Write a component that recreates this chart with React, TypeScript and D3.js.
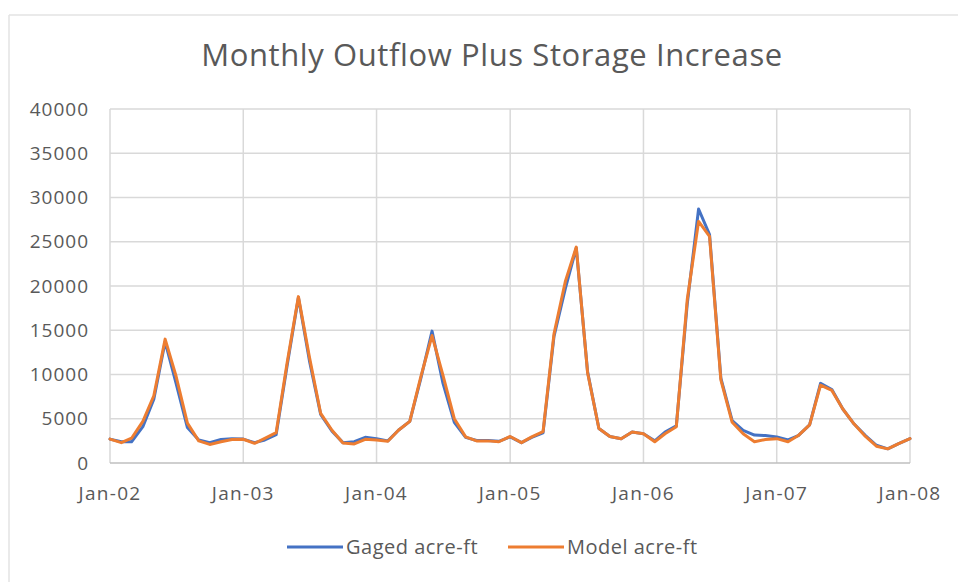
import React from "react";
import * as d3 from "d3";

const startMonth = "2002-01";
const gaged = [
  2700, 2400, 2400, 4100, 7200, 13700, 9000, 4000, 2600, 2300, 2650, 2750,
  2700, 2300, 2600, 3200, 11000, 18700, 11600, 5500, 3600, 2300, 2400, 2900,
  2750, 2500, 3700, 4700, 9500, 14900, 9000, 4600, 2900, 2550, 2550, 2450,
  2950, 2300, 2900, 3400, 14300, 19700, 24300, 10300, 3900, 3000, 2750, 3500,
  3300, 2500, 3500, 4200, 18000, 28700, 25800, 9600, 4800, 3700, 3150, 3100,
  2950, 2600, 3100, 4300, 9000, 8300, 6100, 4400, 3100, 2000, 1600, 2200,
  2750,
];
const model = [
  2700, 2300, 2800, 4700, 7600, 14000, 9800, 4500, 2500, 2100, 2400, 2650,
  2680, 2220, 2790, 3430, 11300, 18800, 12000, 5600, 3700, 2250, 2150, 2680,
  2600, 2450, 3700, 4700, 9700, 14400, 9900, 5000, 2950, 2500, 2500, 2400,
  3000, 2300, 2950, 3550, 14600, 20500, 24400, 10200, 3900, 3000, 2750, 3500,
  3300, 2400, 3300, 4100, 18500, 27300, 25600, 9400, 4600, 3300, 2400, 2650,
  2750, 2400, 3100, 4300, 8800, 8200, 6100, 4400, 3000, 1900, 1600, 2200,
  2750,
];
const yTicks = [0, 5000, 10000, 15000, 20000, 25000, 30000, 35000, 40000];
const xTickYears = [2002, 2003, 2004, 2005, 2006, 2007, 2008];
const seriesNames = ["Gaged acre-ft", "Model acre-ft"];
const title = "Monthly Outflow Plus Storage Increase";

const W = 958;
const H = 582;
const left = 110;
const right = 910;
const top = 109;
const bottom = 463;
const textColor = "#595959";
const font = "'Open Sans', sans-serif";
const colors = ["#4472C4", "#ED7D31"];

export default function App() {
  const parse = d3.timeParse("%Y-%m");
  const start = parse(startMonth) as Date;
  const dates = gaged.map((_, i) => d3.timeMonth.offset(start, i));
  const x = d3
    .scaleTime()
    .domain([new Date(2002, 0, 1), new Date(2008, 0, 1)])
    .range([left, right]);
  const y = d3.scaleLinear().domain([0, 40000]).range([bottom, top]);
  const fmt = d3.timeFormat("%b-%y");
  const line = d3
    .line<number>()
    .x((_, i) => x(dates[i]))
    .y((d) => y(d));
  const xTicks = xTickYears.map((yr) => new Date(yr, 0, 1));

  return (
    <svg
      width={W}
      height={H}
      style={{ position: "absolute", left: 0, top: 0, background: "#fff" }}
    >
      <rect x={0} y={0} width={W} height={H} fill="#fff" />
      <line x1={9} y1={15} x2={W} y2={15} stroke="#e3e3e3" strokeWidth={1.5} />
      <line x1={9} y1={15} x2={9} y2={H} stroke="#e3e3e3" strokeWidth={1.5} />
      <text
        x={492}
        y={66}
        textAnchor="middle"
        fontFamily={font}
        fontSize={31}
        letterSpacing={0.6}
        fill={textColor}
      >
        {title}
      </text>
      {yTicks.map((t) => (
        <g key={"y" + t}>
          {t > 0 && (
            <line
              x1={left}
              x2={right}
              y1={y(t)}
              y2={y(t)}
              stroke="#d9d9d9"
              strokeWidth={1.5}
            />
          )}
          <text
            x={89}
            y={y(t)}
            dy="0.35em"
            textAnchor="end"
            fontFamily={font}
            fontSize={19}
            letterSpacing={1}
            fill={textColor}
          >
            {t}
          </text>
        </g>
      ))}
      {xTicks.map((d) => (
        <g key={"x" + d.getFullYear()}>
          <line
            x1={x(d)}
            x2={x(d)}
            y1={top}
            y2={bottom}
            stroke="#d9d9d9"
            strokeWidth={1.5}
          />
          <text
            x={x(d)}
            y={500}
            textAnchor="middle"
            fontFamily={font}
            fontSize={19}
            letterSpacing={1.3}
            fill={textColor}
          >
            {fmt(d)}
          </text>
        </g>
      ))}
      <line
        x1={left}
        x2={right}
        y1={bottom}
        y2={bottom}
        stroke="#bfbfbf"
        strokeWidth={1.5}
      />
      {[gaged, model].map((s, k) => (
        <path
          key={"s" + k}
          d={line(s) || ""}
          fill="none"
          stroke={colors[k]}
          strokeWidth={3}
          strokeLinejoin="round"
          strokeLinecap="round"
        />
      ))}
      {seriesNames.map((n, k) => {
        const lx = k === 0 ? 287 : 508;
        return (
          <g key={"l" + k}>
            <line
              x1={lx}
              x2={lx + 56}
              y1={547}
              y2={547}
              stroke={colors[k]}
              strokeWidth={3}
            />
            <text
              x={lx + 59}
              y={547}
              dy="0.35em"
              fontFamily={font}
              fontSize={20}
              letterSpacing={0.5}
              fill={textColor}
            >
              {n}
            </text>
          </g>
        );
      })}
    </svg>
  );
}
